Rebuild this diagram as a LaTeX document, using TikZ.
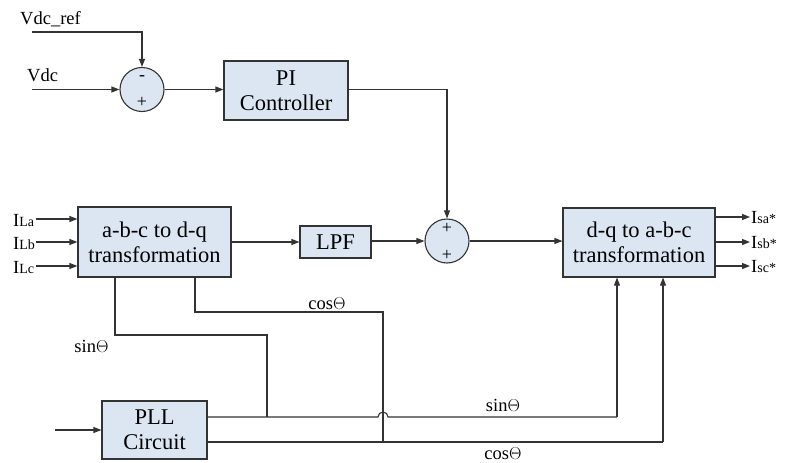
\documentclass[tikz,border=0pt]{standalone}
\usepackage{fontspec}
\setmainfont{Liberation Serif}
\newfontfamily\tnr{Liberation Serif}
\usetikzlibrary{arrows.meta}
\definecolor{boxfill}{HTML}{DCE6F2}
\definecolor{ln}{HTML}{333333}
\begin{document}
\begin{tikzpicture}[x=1pt,y=-1pt,
  blk/.style={draw=ln,line width=1.1pt,fill=boxfill,inner sep=0pt,align=center,font=\tnr\fontsize{22.5pt}{25pt}\selectfont},
  sumc/.style={draw=ln,line width=1.1pt,fill=boxfill,circle,minimum size=44pt,inner sep=0pt},
  wire/.style={draw=ln,line width=1.1pt},
  arr/.style={wire,-{Triangle[length=8pt,width=6pt]}},
  lbl/.style={font=\tnr\fontsize{18.5pt}{20pt}\selectfont,inner sep=0pt},
  sgn/.style={font=\tnr\fontsize{18pt}{20pt}\selectfont,inner sep=0pt}]
\useasboundingbox (0,0) rectangle (790,463);
% blocks
\node[sumc] (s1) at (142,89.5) {};
\node[blk,minimum width=124pt,minimum height=59pt] (pi) at (286,90.5) {PI\\Controller};
\node[blk,minimum width=153pt,minimum height=70pt] (abc) at (154.5,242) {a-b-c to d-q\\transformation};
\node[blk,minimum width=71pt,minimum height=32pt] (lpf) at (335.5,242) {LPF};
\node[sumc] (s2) at (447,241) {};
\node[blk,minimum width=152pt,minimum height=69pt] (dq) at (639,242.5) {d-q to a-b-c\\transformation};
\node[blk,minimum width=105pt,minimum height=58pt] (pll) at (154.5,430) {PLL\\Circuit};
% signs
\node[sgn] (m1) at (142,78) {-};
\node[sgn] (p1) at (142,102) {+};
\node[sgn] (p2) at (447,228) {+};
\node[sgn] (p3) at (447,255) {+};
% top inputs
\node[lbl,anchor=base west] (vref) at (20,24) {Vdc\_ref};
\node[lbl,anchor=base west] (vdc) at (27,81) {Vdc};
\coordinate (vrefs) at (32,32);
\coordinate (vdcs) at (32,89.5);
\draw[arr] (vrefs) -| (s1.north);
\draw[arr] (vdcs) -- (s1.west);
\draw[arr] (s1.east) -- (s1.east -| pi.west);
\draw[arr] (pi.east |- s1.east) -| (s2.north);
% abc inputs
\node[lbl,anchor=base west] (ila) at (13,226) {I{\fontsize{14pt}{16pt}\selectfont La}};
\node[lbl,anchor=base west] (ilb) at (13,249) {I{\fontsize{14pt}{16pt}\selectfont Lb}};
\node[lbl,anchor=base west] (ilc) at (13,273) {I{\fontsize{14pt}{16pt}\selectfont Lc}};
\coordinate (ia) at (36,219);
\coordinate (ib) at (36,242);
\coordinate (ic) at (36,266);
\draw[arr] (ia) -- (ia -| abc.west);
\draw[arr] (ib) -- (ib -| abc.west);
\draw[arr] (ic) -- (ic -| abc.west);
\draw[arr] (abc.east) -- (lpf.west);
\draw[arr] (lpf.east |- s2.west) -- (s2.west);
\draw[arr] (s2.east) -- (s2.east -| dq.west);
% outputs
\coordinate (oa) at (750,217);
\coordinate (ob) at (750,242);
\coordinate (oc) at (750,266);
\draw[arr] (oa -| dq.east) -- (oa);
\draw[arr] (ob -| dq.east) -- (ob);
\draw[arr] (oc -| dq.east) -- (oc);
\node[lbl,anchor=base west] (isa) at (751,223) {I{\fontsize{14pt}{16pt}\selectfont sa*}};
\node[lbl,anchor=base west] (isb) at (751,248) {I{\fontsize{14pt}{16pt}\selectfont sb*}};
\node[lbl,anchor=base west] (isc) at (751,272) {I{\fontsize{14pt}{16pt}\selectfont sc*}};
% feedback wires from abc box
\coordinate (sa) at (115,277);
\coordinate (sb) at (115,335);
\coordinate (sc) at (267,335);
\coordinate (sd) at (267,417);
\draw[wire] (sa) -- (sb) -- (sc) -- (sd);
\coordinate (ca) at (195,277);
\coordinate (cb) at (195,312);
\coordinate (cc) at (383,312);
\coordinate (cd) at (383,442);
\draw[wire] (ca) -- (cb) -- (cc) -- (cd);
\node[lbl,anchor=base] (sinl) at (91.5,352) {sin$\Theta$};
\node[lbl,anchor=base] (cosl) at (327,309) {cos$\Theta$};
% PLL
\coordinate (pin) at (55,430);
\draw[arr] (pin) -- (pll.west);
\coordinate (h1) at (378,417);
\coordinate (h2) at (388,417);
\coordinate (sinend) at (617,417);
\coordinate (cosend) at (663,442);
\draw[wire] (pll.east |- sd) -- (h1) arc[start angle=180,end angle=0,radius=5pt] -- (sinend);
\draw[arr] (sinend) -- (sinend |- dq.south);
\draw[wire] (pll.east |- cd) -- (cosend);
\draw[arr] (cosend) -- (cosend |- dq.south);
\node[lbl,anchor=base] (sinr) at (503,411) {sin$\Theta$};
\node[lbl,anchor=base] (cosr) at (503,459) {cos$\Theta$};
\end{tikzpicture}
\end{document}
